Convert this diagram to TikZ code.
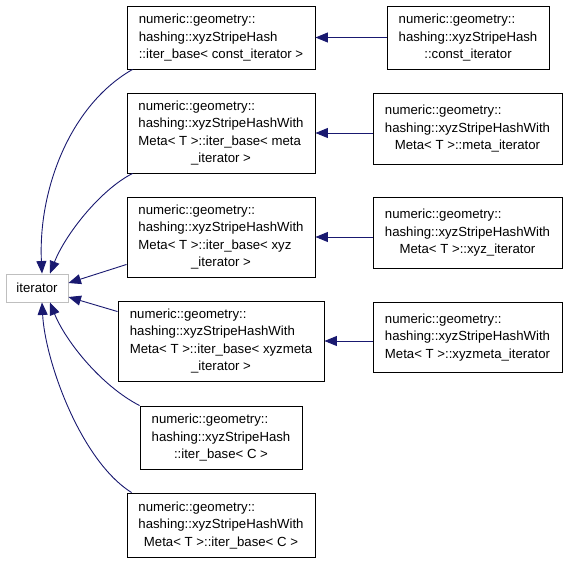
\documentclass[tikz,border=0pt]{standalone}
\usepackage{fontspec}
\setmainfont{Liberation Sans}
\usetikzlibrary{arrows.meta,calc}
\definecolor{edgeblue}{RGB}{25,25,112}
\definecolor{litegray}{RGB}{191,191,191}
\newcommand{\lastline}[1]{\multicolumn{1}{@{}c@{}}{#1}}
\begin{document}
\begin{tikzpicture}[x=1pt,y=-1pt,
  cls/.style={draw=black,line width=0.9pt,fill=white,inner sep=0pt,
    font=\fontsize{13.2}{17.5}\selectfont},
  base/.style={draw=litegray,line width=0.9pt,fill=white,inner sep=0pt,
    font=\fontsize{13.2}{17.5}\selectfont},
  edge/.style={draw=edgeblue,line width=0.9pt,
    -{Triangle[length=12.5pt,width=10pt,fill=edgeblue]}}]
\useasboundingbox (0,0) rectangle (568,563);

% base class
\node[base, minimum width=62pt, minimum height=28pt] (it) at (37,288) {iterator};

% middle column
\node[cls, minimum width=188pt, minimum height=63pt] (A) at (221,37.5)
  {\begin{tabular}{@{}l@{}}numeric::geometry::\\hashing::xyzStripeHash\\\lastline{::iter\_base< const\_iterator >}\end{tabular}};
\node[cls, minimum width=188pt, minimum height=80pt] (B) at (221,133)
  {\begin{tabular}{@{}l@{}}numeric::geometry::\\hashing::xyzStripeHashWith\\Meta< T >::iter\_base< meta\\\lastline{\_iterator >}\end{tabular}};
\node[cls, minimum width=188pt, minimum height=80pt] (C) at (221,237)
  {\begin{tabular}{@{}l@{}}numeric::geometry::\\hashing::xyzStripeHashWith\\Meta< T >::iter\_base< xyz\\\lastline{\_iterator >}\end{tabular}};
\node[cls, minimum width=206pt, minimum height=80pt] (D) at (221,341)
  {\begin{tabular}{@{}l@{}}numeric::geometry::\\hashing::xyzStripeHashWith\\Meta< T >::iter\_base< xyzmeta\\\lastline{\_iterator >}\end{tabular}};
\node[cls, minimum width=162pt, minimum height=63pt] (E) at (221,437.5)
  {\begin{tabular}{@{}l@{}}numeric::geometry::\\hashing::xyzStripeHash\\\lastline{::iter\_base< C >}\end{tabular}};
\node[cls, minimum width=188pt, minimum height=64pt] (F) at (221,525)
  {\begin{tabular}{@{}l@{}}numeric::geometry::\\hashing::xyzStripeHashWith\\\lastline{Meta< T >::iter\_base< C >}\end{tabular}};

% right column
\node[cls, minimum width=162pt, minimum height=63pt] (R1) at (468,37.5)
  {\begin{tabular}{@{}l@{}}numeric::geometry::\\hashing::xyzStripeHash\\\lastline{::const\_iterator}\end{tabular}};
\node[cls, minimum width=189pt, minimum height=71pt] (R2) at (467.5,128.5)
  {\begin{tabular}{@{}l@{}}numeric::geometry::\\hashing::xyzStripeHashWith\\\lastline{Meta< T >::meta\_iterator}\end{tabular}};
\node[cls, minimum width=189pt, minimum height=71pt] (R3) at (467.5,232.5)
  {\begin{tabular}{@{}l@{}}numeric::geometry::\\hashing::xyzStripeHashWith\\\lastline{Meta< T >::xyz\_iterator}\end{tabular}};
\node[cls, minimum width=189pt, minimum height=70pt] (R4) at (467.5,337)
  {\begin{tabular}{@{}l@{}}numeric::geometry::\\hashing::xyzStripeHashWith\\\lastline{Meta< T >::xyzmeta\_iterator}\end{tabular}};

% edges to base
\draw[edge] ([xshift=6pt]A.south west) .. controls (70,105) and (38,190) .. ([xshift=5pt]it.north);
\draw[edge] ([xshift=6pt]B.south west) .. controls (100,190) and (65,235) .. ([xshift=13pt]it.north);
\draw[edge] ([yshift=13pt]C.south west) -- ([yshift=5pt]it.east);
\draw[edge] ([yshift=-11pt]D.north west) -- ([yshift=-9pt]it.east);
\draw[edge] (E.north west) .. controls (100,385) and (65,340) .. ([xshift=13pt]it.south);
\draw[edge] ([xshift=5pt]F.north west) .. controls (80,460) and (45,360) .. ([xshift=5pt]it.south);

% edges from right column
\draw[edge] (R1.west) -- (A.east);
\draw[edge] (R2.west |- B.east) -- (B.east);
\draw[edge] (R3.west |- C.east) -- (C.east);
\draw[edge] (R4.west |- D.east) -- (D.east);
\end{tikzpicture}
\end{document}
